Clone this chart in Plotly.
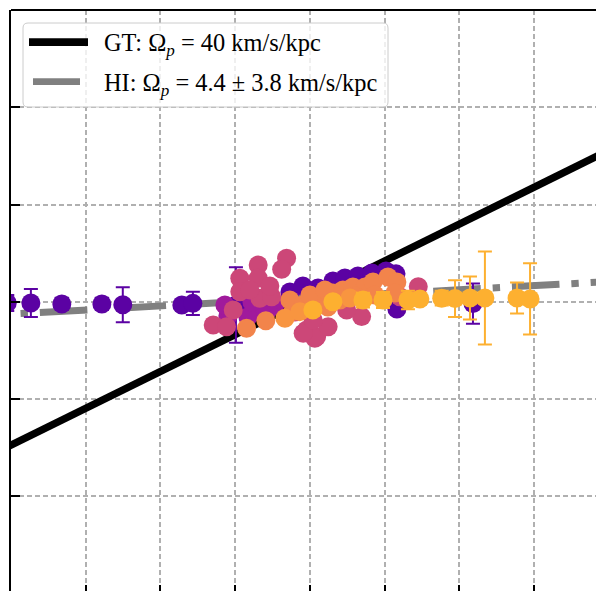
import plotly.graph_objects as go

# ---------------- data (x in kpc, y in km/s) ----------------
# purple points with error bars
purple_x = [-2.025, -1.867, -1.660, -1.392, -1.252, -0.857, -0.783, -0.495, 1.091,
            -0.435, -0.321, -0.134, -0.047, 0.054, 0.154, 0.234, 0.321, 0.415, 0.509, 0.576, 0.582]
purple_y = [-0.6, -0.6, -1.1, -1.1, -1.6, -1.7, -0.8, -1.7, -0.9,
            -3.3, 1.0, 5.4, 8.6, 7.5, 11.3, 13.0, 14.1, 15.7, 16.8, 15.2, -3.9]
purple_err = [4.3, 7.6, 3.3, 3.3, 9.5, 2.2, 6.3, 20.5, 10.9,
              0, 0, 0, 0, 0, 0, 0, 0, 0, 0, 0, 2.0]

magenta_x = [-0.368, -0.234, -0.415, -0.281, -0.549, -0.569, -0.388]
magenta_y = [-5.3, -1.7, -8.2, -4.4, -7.7, -1.7, -0.1]

pink_x = [-0.156, -0.189, -0.346, -0.346, -0.469, -0.469, -0.335, -0.256, -0.513, -0.647, -0.558,
          -0.022, 0.033, 0.725, 0.346, 0.045, 0.122, -0.045, 0.022, 0.246, 0.602,
          -0.402, -0.268, -0.100]
pink_y = [23.7, 17.7, 20.0, 12.8, 12.8, 5.5, 2.0, 2.8, -4.4, -12.5, -13.5,
          -15.2, -19.8, 8.2, -8.0, -18.9, -13.5, -17.0, -9.8, -4.4, 2.8,
          6.5, 8.6, -5.5]

orange_x = [-0.424, -0.295, -0.114, -0.022, -0.134, -0.047, 0.067, 0.154, 0.221, 0.288, 0.368,
            0.422, 0.522, 0.582, 0.435, 0.120, 0.000, 0.100, 0.201, 0.301, 0.569]
orange_y = [-14.3, -10.2, -5.3, -3.5, 1.0, -1.7, 1.0, 4.8, 6.5, 8.1, 8.1,
            10.8, 13.5, 10.8, 3.7, -2.8, 3.7, 6.5, 1.0, 3.2, 4.8]

lorange_x = [-0.167, -0.067, 0.268]
lorange_y = [-8.9, -5.3, 2.1]

yellow_x = [0.020, 0.154, 0.355, 0.489, 0.656, 0.736, 0.882, 0.971, 1.071, 1.171, 1.386, 1.473]
yellow_y = [-4.4, 0.1, 1.0, 1.0, 1.0, 1.6, 2.0, 1.8, 2.1, 2.1, 2.1, 1.6]
yellow_err = [3.0, 3.0, 4.0, 4.3, 5.0, 3.0, 4.0, 10.0, 11.7, 25.2, 8.4, 19.3]

# pattern-speed lines
omega_gt = 40.0
omega_hi = 4.4
omega_hi_err = 3.8
v_offset = 2.2
gt_x = [-2.3, 2.3]
hi_x = [-1.936, 2.3]

# axis settings
x_range = [-2.0, 1.9143]
y_range = [-156.9, 158.4]
x_step = 0.5
y_step = 52.8

legend_labels = ["GT: Ω<sub><i>p</i></sub> = 40 km/s/kpc",
                 "HI: Ω<sub><i>p</i></sub> = 4.4 ± 3.8 km/s/kpc"]

# ---------------- figure ----------------
W, H = 596, 591
L, T = 11, 10
PW, PH = W - L, H - T

fig = go.Figure()

fig.add_trace(go.Scatter(x=gt_x, y=[omega_gt * v + v_offset for v in gt_x], mode="lines",
                         line=dict(color="black", width=7.4), showlegend=False))
fig.add_trace(go.Scatter(x=hi_x, y=[omega_hi * v + v_offset for v in hi_x], mode="lines",
                         line=dict(color="#808080", width=7, dash="7.4px,11.9px,47.6px,11.9px"),
                         showlegend=False))

MS = 19
def pts(x, y, color, err=None):
    kw = {}
    if err is not None:
        kw["error_y"] = dict(type="data", array=err, color=color, thickness=2, width=7)
    fig.add_trace(go.Scatter(x=x, y=y, mode="markers", marker=dict(size=MS, color=color),
                             showlegend=False, **kw))

pts(purple_x, purple_y, "#5b02a3", purple_err)
pts(magenta_x, magenta_y, "#a01a9c")
pts(pink_x, pink_y, "#cc4778")
pts(orange_x, orange_y, "#f2844b")
pts(lorange_x, lorange_y, "#f89540")
pts(yellow_x, yellow_y, "#fdb030", yellow_err)

# ---------------- layout helpers (pixel -> paper) ----------------
def px(xp):
    return (xp - L) / PW

def py(yp):
    return 1 - (yp - T) / PH

def rounded_box(x0, y0, x1, y1, r):
    pts_ = [
        f"M{px(x0 + r)},{py(y0)}",
        f"L{px(x1 - r)},{py(y0)}", f"Q{px(x1)},{py(y0)} {px(x1)},{py(y0 + r)}",
        f"L{px(x1)},{py(y1 - r)}", f"Q{px(x1)},{py(y1)} {px(x1 - r)},{py(y1)}",
        f"L{px(x0 + r)},{py(y1)}", f"Q{px(x0)},{py(y1)} {px(x0)},{py(y1 - r)}",
        f"L{px(x0)},{py(y0 + r)}", f"Q{px(x0)},{py(y0)} {px(x0 + r)},{py(y0)}", "Z"]
    return " ".join(pts_)

shapes = [
    dict(type="line", xref="paper", yref="paper", x0=0, x1=1, y0=1, y1=1,
         line=dict(color="black", width=2), layer="above"),
    dict(type="path", xref="paper", yref="paper", path=rounded_box(23, 23, 388, 107, 5),
         fillcolor="rgba(255,255,255,0.8)", line=dict(color="#cccccc", width=1), layer="above"),
    dict(type="line", xref="paper", yref="paper", x0=px(29), x1=px(88), y0=py(42.2), y1=py(42.2),
         line=dict(color="black", width=7.7), layer="above"),
    dict(type="line", xref="paper", yref="paper", x0=px(33), x1=px(80), y0=py(81.7), y1=py(81.7),
         line=dict(color="#808080", width=6.7), layer="above"),
]

annotations = [
    dict(xref="paper", yref="paper", x=px(102), y=py(45), xanchor="left", yanchor="middle",
         text=legend_labels[0], showarrow=False,
         font=dict(family="Liberation Serif", size=24.4, color="black")),
    dict(xref="paper", yref="paper", x=px(102), y=py(84), xanchor="left", yanchor="middle",
         text=legend_labels[1], showarrow=False,
         font=dict(family="Liberation Serif", size=24.4, color="black")),
]

fig.update_layout(
    width=W, height=H,
    margin=dict(l=L, r=0, t=T, b=0, pad=0),
    paper_bgcolor="white", plot_bgcolor="white",
    showlegend=False,
    shapes=shapes, annotations=annotations,
    xaxis=dict(range=x_range, tick0=0, dtick=x_step, showticklabels=False,
               ticks="inside", ticklen=6, tickwidth=2, tickcolor="black",
               showline=False, zeroline=False,
               showgrid=True, gridcolor="#b0b0b0", gridwidth=1.5, griddash="5px,3px"),
    yaxis=dict(range=y_range, tick0=0, dtick=y_step, showticklabels=False,
               ticks="inside", ticklen=9, tickwidth=1.5, tickcolor="black",
               showline=True, linecolor="black", linewidth=2, zeroline=False,
               showgrid=True, gridcolor="#b0b0b0", gridwidth=1.5, griddash="5px,3px"),
)

fig.write_html("out.html")
